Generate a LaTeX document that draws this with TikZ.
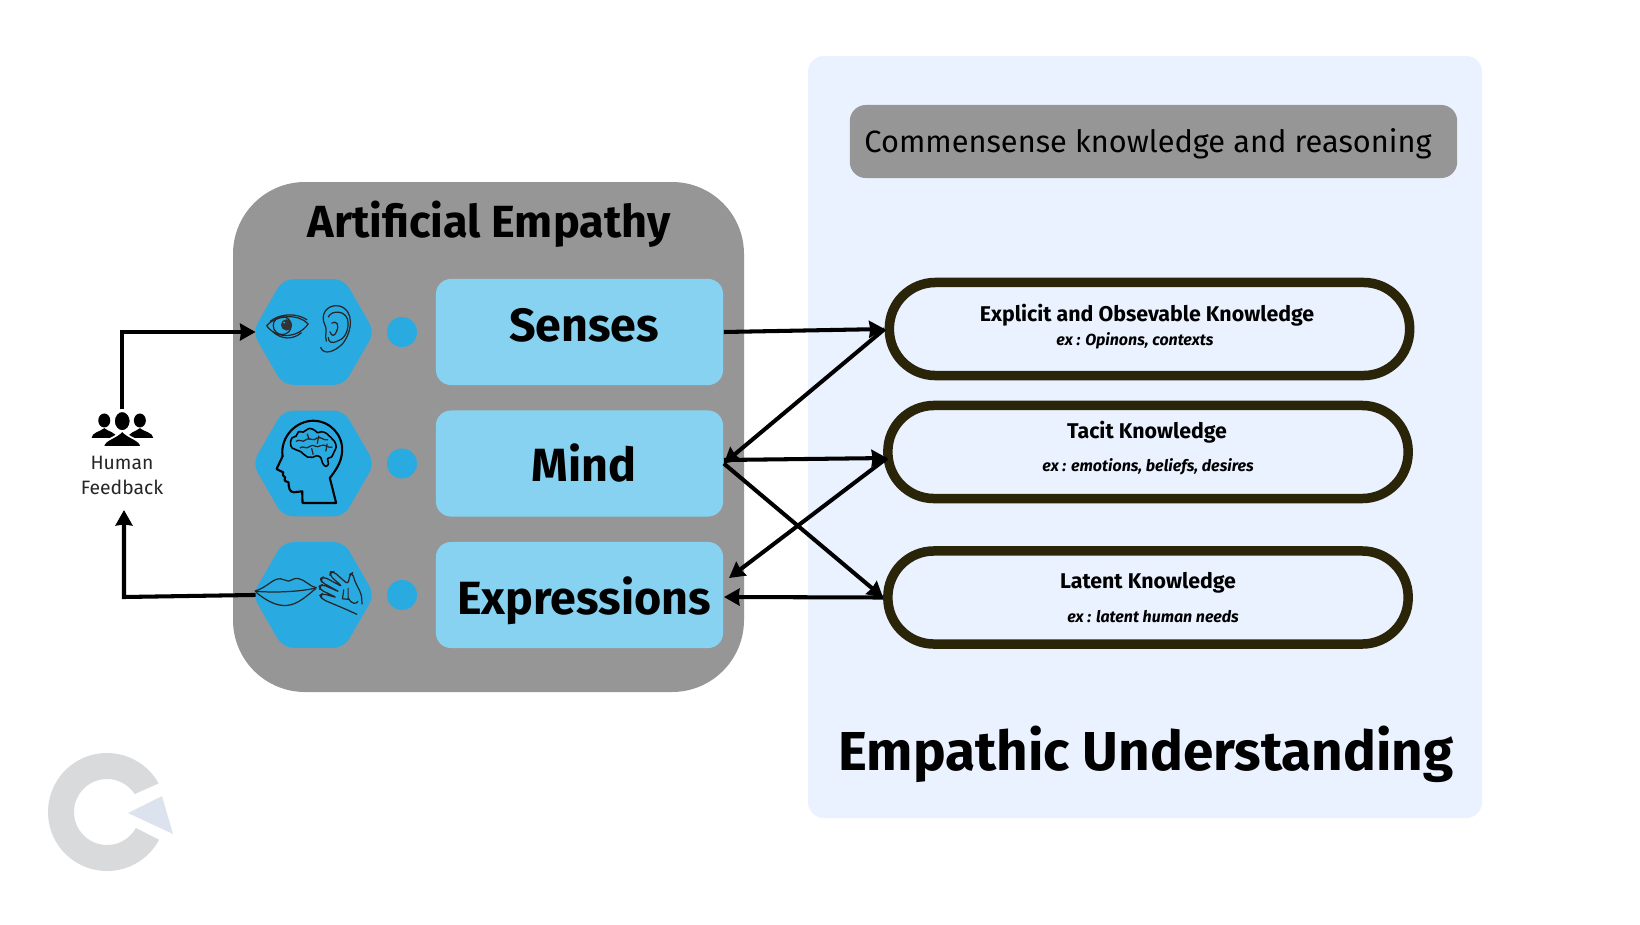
\documentclass[tikz,border=0pt]{standalone}
\usepackage{fontspec}
\setmainfont{Fira Sans}
\usepackage{tikz}
\usetikzlibrary{arrows.meta, shapes.geometric}

\definecolor{panelgray}{HTML}{969696}
\definecolor{panelblue}{HTML}{EAF1FF}
\definecolor{hexblue}{HTML}{29ABE2}
\definecolor{boxblue}{HTML}{87D2F0}
\definecolor{pillline}{HTML}{2A2408}
\definecolor{logogray}{HTML}{D9DADC}
\definecolor{logotri}{HTML}{DDE3EE}

\begin{document}
\begin{tikzpicture}[
    x=0.01cm, y=-0.01cm,
    >={Stealth[length=4.4pt,width=4.8pt,inset=0.3pt]},
    % Thick black connectors
    link/.style={->, black, line width=1.15pt},
    % Blue hexagon holding an icon
    hexicon/.style={regular polygon, regular polygon sides=6, shape border rotate=0,
        minimum size=1.22cm, inner sep=0pt, fill=hexblue, rounded corners=0.1cm},
    bluedot/.style={circle, fill=hexblue, minimum size=0.3cm, inner sep=0pt},
    facultybox/.style={rectangle, fill=boxblue, rounded corners=0.15cm,
        minimum width=2.87cm, minimum height=1.06cm, inner sep=0pt},
    pill/.style={rectangle, draw=pillline, line width=2.7pt, fill=panelblue,
        rounded corners=0.46cm, minimum width=5.2cm, minimum height=0.93cm, inner sep=0pt},
    facultytext/.style={anchor=base, font=\fontsize{13.25}{15}\selectfont\bfseries},
    pilltitle/.style={anchor=base, font=\fontsize{6.07}{8}\selectfont\bfseries},
    pillsub/.style={anchor=base, font=\fontsize{4.55}{6}\selectfont\bfseries\itshape},
    iconline/.style={draw=black!85, line width=0.35pt, line join=round},
]
\useasboundingbox (0,0) rectangle (1640,924);
\fill[white] (0,0) rectangle (1640,924);

% --- Background panels ---
\fill[panelblue, rounded corners=0.16cm] (808,56) rectangle (1482,818);
\fill[panelgray, rounded corners=0.72cm] (233,182) rectangle (744,692);

% --- Commonsense banner ---
\node[fill=panelgray, rounded corners=0.16cm, minimum width=6.07cm, minimum height=0.73cm, inner sep=0pt]
    (banner) at (1153.5,141.5) {};
\node[anchor=base, font=\fontsize{8.75}{11}\selectfont] (bannertext) at (1148,152) {Commensense knowledge and reasoning};

% --- Titles ---
\node[anchor=base, font=\fontsize{12.8}{15}\selectfont\bfseries] (aetitle) at (489,237) {Artificial Empathy};
\node[anchor=base, font=\fontsize{15.6}{18}\selectfont\bfseries] (eutitle) at (1146,770) {Empathic Understanding};

% --- Hexagons, dots and boxes of the three rows ---
\foreach \name/\ypos in {senses/332, mind/463.5, expr/595} {
    \node[hexicon] (hex\name) at (313.5,\ypos) {};
    \node[bluedot] (dot\name) at (402,\ypos) {};
    \node[facultybox] (\name) at (579.5,\ypos) {};
}
\node[facultytext] (sensestext) at (584,341) {Senses};
\node[facultytext] (mindtext) at (584,481) {Mind};
\node[facultytext] (exprtext) at (584,614) {Expressions};

% --- Knowledge pills ---
\node[pill] (explicit) at (1149.5,329) {};
\node[pill] (tacit) at (1148,452) {};
\node[pill] (latent) at (1148,597.5) {};
\node[pilltitle] (explicittitle) at (1147,321) {Explicit and Obsevable Knowledge};
\node[pillsub] (explicitsub) at (1135,345) {ex : Opinons, contexts};
\node[pilltitle] (tacittitle) at (1147,438) {Tacit Knowledge};
\node[pillsub] (tacitsub) at (1148,471) {ex : emotions, beliefs, desires};
\node[pilltitle] (latenttitle) at (1148,588) {Latent Knowledge};
\node[pillsub] (latentsub) at (1153,622) {ex : latent human needs};

% --- Eye and ear ---
\begin{scope}[shift={(220,260)}, x=0.00333cm, y=-0.00333cm]
    \draw[iconline] (140,197) .. controls (170,165) and (235,160) .. (265,192)
        .. controls (235,235) and (170,240) .. (140,197);
    \draw[iconline] (150,185) .. controls (180,160) and (230,158) .. (262,180);
    \draw[iconline] (158,215) .. controls (185,240) and (220,240) .. (245,218);
    \draw[iconline] (187,197) circle (27);
    \fill[black!80] (200,195) circle (17);
    \fill[hexblue] (193,188) circle (3);
    % ear
    \draw[iconline] (302,262) .. controls (312,288) and (345,275) .. (368,252)
        .. controls (398,215) and (405,150) .. (358,138)
        .. controls (320,132) and (300,165) .. (315,195)
        .. controls (325,215) and (312,225) .. (320,245);
    \draw[iconline] (325,172) .. controls (335,148) and (385,150) .. (385,190)
        .. controls (385,220) and (370,240) .. (350,245) .. controls (340,250) and (325,250) .. (325,232);
    \draw[iconline] (335,190) .. controls (350,180) and (360,195) .. (350,215)
        .. controls (345,230) and (335,230) .. (330,215);
\end{scope}

% --- Head with brain ---
\begin{scope}[shift={(220,260)}, x=0.00333cm, y=-0.00333cm]
    \draw[black, line width=0.6pt, line join=round]
        (349,730) -- (248,730) -- (247,695) -- (222,698)
        .. controls (208,698) and (206,682) .. (206,668)
        .. controls (198,668) and (190,662) .. (196,654)
        .. controls (190,650) and (186,645) .. (190,638)
        -- (170,628) -- (188,590)
        .. controls (180,530) and (230,483) .. (280,483)
        .. controls (330,483) and (370,525) .. (367,575)
        .. controls (365,610) and (345,635) .. (330,655) -- cycle;
    \draw[black, line width=0.45pt, line join=round] plot[smooth cycle, tension=0.7] coordinates {
        (212,552) (216,535) (229,529) (236,516) (250,517) (258,512) (270,506) (285,512) (293,519)
        (305,516) (320,521) (333,533) (344,545) (349,562) (342,578) (335,592) (323,597) (326,612)
        (318,620) (308,610) (303,594) (290,588) (278,593) (263,592) (253,585) (243,576) (228,570) (217,565)};
    \draw[iconline] (228,545) .. controls (240,535) and (248,552) .. (258,540)
        .. controls (268,530) and (280,548) .. (292,535) .. controls (302,528) and (312,545) .. (325,540);
    \draw[iconline] (240,565) .. controls (250,555) and (258,572) .. (270,560)
        .. controls (280,550) and (290,568) .. (302,558) .. controls (315,550) and (325,568) .. (338,562);
    \draw[iconline] (262,522) -- (268,540) (297,528) -- (292,552) (322,552) -- (318,575) (275,565) -- (280,585);
\end{scope}

% --- Lips and hand ---
\begin{scope}[shift={(220,260)}, x=0.00333cm, y=-0.00333cm]
    \draw[iconline] (105,995) .. controls (140,985) and (160,955) .. (182,958)
        .. controls (192,958) and (198,965) .. (205,965)
        .. controls (212,965) and (220,955) .. (235,957)
        .. controls (255,960) and (270,982) .. (290,985);
    \draw[iconline] (105,995) .. controls (150,1000) and (240,998) .. (290,985);
    \draw[iconline] (108,998) .. controls (140,1025) and (170,1040) .. (200,1038)
        .. controls (235,1036) and (265,1005) .. (287,988);
    \draw[iconline, rounded corners=1pt]
        (412,1065) -- (375,1048) -- (308,1020) -- (300,1008) -- (308,1002) -- (352,1015)
        -- (300,990) -- (298,980) -- (308,975) -- (360,998)
        -- (305,968) -- (302,957) -- (312,952) -- (368,982)
        -- (330,948) -- (332,937) -- (342,937) -- (385,975)
        -- (390,945) -- (398,940) -- (405,965) -- (425,1005) -- (427,1035);
    \draw[iconline] (372,990) -- (368,1018) -- (390,1020) (385,985) -- (385,1015)
        .. controls (395,1035) and (410,1035) .. (415,1025);
\end{scope}

% --- Human feedback ---
\node[minimum width=0.62cm, minimum height=0.42cm, inner sep=0pt] (people) at (122,431) {};
\begin{scope}[shift={(60,300)}, x=0.00333cm, y=-0.00333cm]
    \fill[black] (133,362) ellipse (18 and 21);
    \fill[black] (240,362) ellipse (18 and 21);
    \fill[black] (95,414) .. controls (96,398) and (120,396) .. (133,385)
        .. controls (146,396) and (170,398) .. (170,414) -- cycle;
    \fill[black] (205,414) .. controls (205,398) and (227,396) .. (240,385)
        .. controls (253,396) and (279,398) .. (280,414) -- cycle;
    \path[fill=black, draw=white, line width=0.5pt]
        (130,442) .. controls (130,418) and (170,415) .. (187,392)
        .. controls (204,415) and (244,418) .. (244,442) -- cycle;
    \path[fill=black, draw=white, line width=0.5pt] (187,364) ellipse (25 and 30);
\end{scope}
\node[align=center, anchor=base, font=\fontsize{5.5}{7.1}\selectfont, text=black!85] (feedback) at (122,494) {Human\\Feedback};

% --- Free ends that stop beside the nodes ---
\coordinate (fbcorner) at (124,597);
\coordinate (fbin) at (124,510);
\coordinate (exprin) at (729,578);
\coordinate (exprout) at (724,597);
\coordinate (mindout) at (724,460);
\coordinate (tacitin) at (887,458);

% --- Connectors ---
\draw[link, shorten >=-1.1pt] (people.north) |- (hexsenses.west);
\draw[link, shorten <=-1.1pt] (hexexpr.west) -- (fbcorner) -- (fbin);
\draw[link] (senses.east) -- (explicit.west);
\draw[link] (explicit.west) -- (mind.east);
\draw[link] (mindout) -- (tacitin);
\draw[link] (tacitin) -- (exprin);
\draw[link] (mind.east) -- (latent.west);
\draw[link] (latent.west) -- (exprout);

% --- Logo ---
\fill[logogray] ([shift={(-29:59)}]107,812) arc (-29:-332:59)
    -- ([shift={(-331:33)}]107,812) arc (-331:-33:33) -- cycle;
\fill[logotri] (128,813) -- (162,796) -- (173,834) -- cycle;

\end{tikzpicture}
\end{document}
